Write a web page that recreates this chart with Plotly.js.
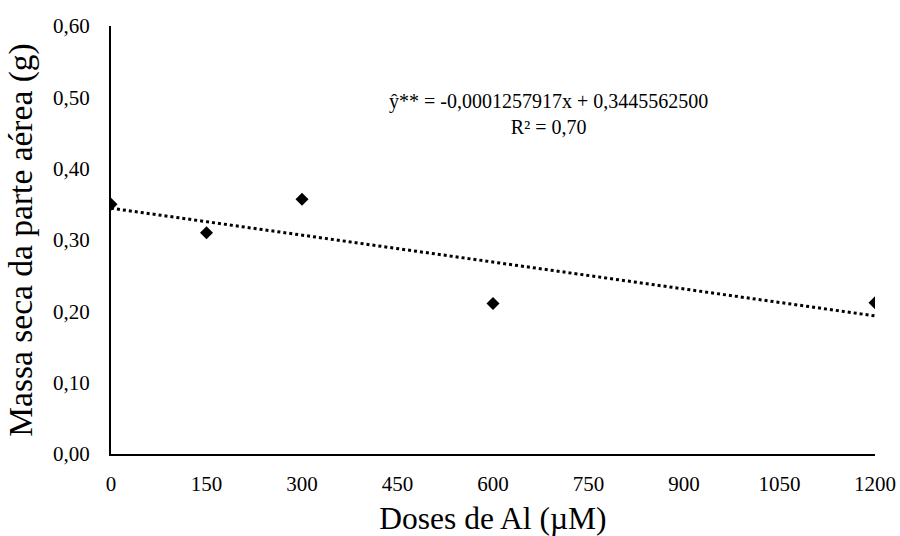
<!DOCTYPE html>
<html>
<head>
<meta charset="utf-8">
<script src="https://cdn.plot.ly/plotly-3.0.1.min.js"></script>
<style>html,body{margin:0;padding:0;background:#fff;}</style>
</head>
<body>
<div id="chart" style="width:900px;height:536px;"></div>
<script>
var doses = [0, 150, 300, 600, 1200];
var massa = [0.35, 0.31, 0.357, 0.211, 0.212];
var slope = -0.0001257917;
var intercept = 0.34455625;
var trendX = [0, 1200];
var trendY = trendX.map(function(x){ return slope * x + intercept; });
var xTicks = [0, 150, 300, 450, 600, 750, 900, 1050, 1200];
var yTicks = [0, 0.1, 0.2, 0.3, 0.4, 0.5, 0.6];
var equationText = "ŷ** = -0,0001257917x + 0,3445562500<br>R² = 0,70";

var font = "Liberation Serif";

var data = [
  {
    x: trendX, y: trendY, mode: "lines", type: "scatter",
    line: {color: "#000", width: 3, dash: "dot"},
    hoverinfo: "skip"
  },
  {
    x: doses, y: massa, mode: "markers", type: "scatter",
    marker: {symbol: "diamond", size: 10, color: "#000"}
  }
];

var layout = {
  width: 900, height: 536,
  margin: {l: 111, r: 25, t: 26, b: 82},
  paper_bgcolor: "#fff", plot_bgcolor: "#fff",
  showlegend: false,
  separators: ",.",
  font: {family: font, size: 20, color: "#000"},
  xaxis: {
    range: [0, 1200], tickvals: xTicks, ticktext: xTicks.map(String),
    showgrid: false, zeroline: false, showline: true, linecolor: "#000", linewidth: 2,
    ticks: "", ticklen: 0, ticklabelstandoff: 10,
    tickfont: {family: font, size: 21, color: "#000"},
    title: {text: "Doses de Al (µM)", font: {family: font, size: 31.5, color: "#000"}, standoff: 12},
    automargin: false
  },
  yaxis: {
    range: [0, 0.6], tickvals: yTicks, tickformat: ".2f",
    showgrid: false, zeroline: false, showline: true, linecolor: "#000", linewidth: 2,
    ticks: "", ticklen: 0, ticklabelstandoff: 15,
    tickfont: {family: font, size: 21, color: "#000"},
    title: {text: "Massa seca da parte aérea (g)", font: {family: font, size: 33.5, color: "#000"}, standoff: 10},
    automargin: false
  },
  annotations: [{
    xref: "paper", yref: "paper", x: 0.572, y: 0.794, xanchor: "center", yanchor: "middle",
    text: equationText, showarrow: false, align: "center",
    font: {family: font, size: 20, color: "#000"}
  }]
};

Plotly.newPlot("chart", data, layout, {displayModeBar: false, staticPlot: true});
</script>
</body>
</html>
